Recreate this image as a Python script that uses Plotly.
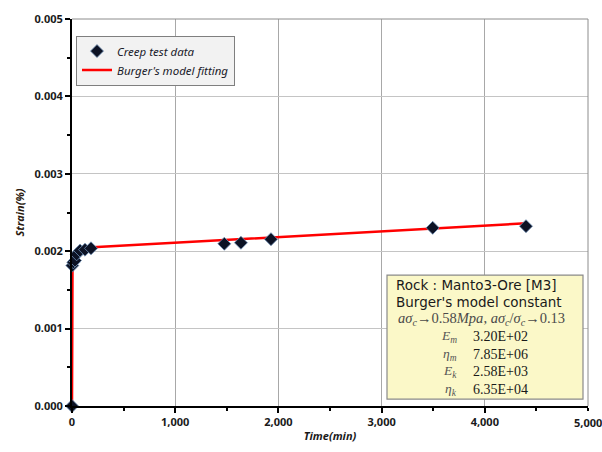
import plotly.graph_objects as go

# Creep test data
time_data = [0, 3, 13, 29, 45, 78, 126, 184, 1476, 1637, 1928, 3495, 4399]
strain_data = [0.0, 0.001814, 0.001856, 0.00188, 0.00196, 0.002008, 0.00202, 0.002037,
               0.002096, 0.002109, 0.002155, 0.002302, 0.002323]

# Burger's model fitting curve
time_fit = [0, 0, 5, 10, 25, 50, 100, 200, 1000, 2000, 3000, 4400]
strain_fit = [0.0, 0.00181, 0.00185, 0.00188, 0.00194, 0.00199, 0.00203, 0.00205,
              0.00211, 0.00218, 0.00226, 0.00236]

x_ticks = [0, 1000, 2000, 3000, 4000, 5000]
x_tick_labels = ["0", "1,000", "2,000", "3,000", "4,000", "5,000"]
y_ticks = [0, 0.001, 0.002, 0.003, 0.004, 0.005]
y_tick_labels = ["0.000", "0.001", "0.002", "0.003", "0.004", "0.005"]

info_header = ["Rock : Manto3-Ore [M3]", "Burger's model constant"]
param_names = ["<i>E<sub>m</sub></i>", "<i>η<sub>m</sub></i>", "<i>E<sub>k</sub></i>", "<i>η<sub>k</sub></i>"]
param_values = ["3.20E+02", "7.85E+06", "2.58E+03", "6.35E+04"]

W, H = 602, 452
L, R, T, B = 72, 14, 11, 45
pw, ph = W - L - R, H - T - B

def px(x):
    return (x - L) / pw

def py(y):
    return (H - B - y) / ph

fig = go.Figure()
fig.add_trace(go.Scatter(
    x=time_fit, y=strain_fit, mode="lines", name="Burger's model fitting",
    line=dict(color="#ff0000", width=2.5), cliponaxis=False))
fig.add_trace(go.Scatter(
    x=time_data, y=strain_data, mode="markers", name="Creep test data",
    marker=dict(symbol="diamond", size=10, color="#0c1224",
                line=dict(color="#6f8fb5", width=0.8)),
    cliponaxis=False))

tick_font = dict(family="Noto Sans", size=11, color="#1a1a1a", weight="bold")
fig.update_layout(
    width=W, height=H, margin=dict(l=L, r=R, t=T, b=B),
    paper_bgcolor="white", plot_bgcolor="white",
    showlegend=True,
    legend=dict(x=px(76), y=py(28), xanchor="left", yanchor="top",
                bgcolor="#f2f2f2", bordercolor="#7f7f7f", borderwidth=1,
                font=dict(family="Noto Sans", size=11.5, color="#1a1a2a", style="italic"),
                traceorder="reversed", itemwidth=30, tracegroupgap=0),
    xaxis=dict(range=[0, 5000], tickvals=x_ticks[:-1], ticktext=x_tick_labels[:-1],
               showgrid=True, gridcolor="#a8a8a8", gridwidth=1,
               showline=True, linecolor="black", linewidth=2, mirror=False,
               ticks="outside", ticklen=5, tickwidth=1.5, tickcolor="black",
               minor=dict(ticks="outside", dtick=500, ticklen=3, tickcolor="black", showgrid=False),
               tickfont=tick_font,
               title=dict(text="Time(min)", standoff=4,
                          font=dict(family="Noto Sans", size=11, color="#1a1a1a",
                                    style="italic", weight="bold")),
               zeroline=False),
    yaxis=dict(range=[0, 0.005], tickvals=y_ticks, ticktext=y_tick_labels,
               showgrid=True, gridcolor="#c4c4c4", gridwidth=1,
               showline=True, linecolor="black", linewidth=2,
               ticks="outside", ticklen=5, tickwidth=1.5, tickcolor="black",
               minor=dict(ticks="outside", dtick=0.0005, ticklen=3, tickcolor="black", showgrid=False),
               tickfont=tick_font,
               title=dict(text="Strain(%)", standoff=8,
                          font=dict(family="Noto Sans", size=11, color="#2a1a10",
                                    style="italic", weight="bold")),
               zeroline=False),
)

# last x tick label (partly cut by the page edge, as in the reference)
fig.add_annotation(xref="x", yref="paper", x=x_ticks[-1], y=0, yshift=-7,
                   xanchor="center", yanchor="top", text=x_tick_labels[-1],
                   showarrow=False, font=tick_font)
fig.add_shape(type="line", xref="x", yref="paper", x0=x_ticks[-1], x1=x_ticks[-1],
              y0=0, y1=-5 / ph, line=dict(color="black", width=1.5))

# plot area border (top/right)
fig.add_shape(type="line", xref="paper", yref="paper", x0=0, x1=1, y0=1, y1=1,
              line=dict(color="#8c8c8c", width=1))
fig.add_shape(type="line", xref="paper", yref="paper", x0=1, x1=1, y0=0, y1=1,
              line=dict(color="#8c8c8c", width=1))

# info box
fig.add_shape(type="rect", xref="paper", yref="paper",
              x0=px(387), x1=px(583), y0=py(400), y1=py(273),
              fillcolor="#fbf8c8", line=dict(color="#8a8a8a", width=1.2), layer="above")

sans = dict(family="DejaVu Sans", size=13.5, color="#1a1a1a")
for txt, yy in zip(info_header, [283, 301]):
    fig.add_annotation(xref="paper", yref="paper", x=px(394), y=py(yy),
                       xanchor="left", yanchor="middle", text=txt, showarrow=False, font=sans)

fig.add_annotation(xref="paper", yref="paper", x=px(396), y=py(318), xanchor="left", yanchor="middle",
                   text="<i>aσ<sub>c</sub></i>→0.58<i>Mpa</i>, <i>aσ<sub>c</sub></i>/<i>σ<sub>c</sub></i>→0.13",
                   showarrow=False,
                   font=dict(family="Liberation Serif", size=14.5, color="#4a4a4a"))

for name, val, yy in zip(param_names, param_values, [336, 354, 372, 390]):
    fig.add_annotation(xref="paper", yref="paper", x=px(459), y=py(yy), xanchor="right",
                       yanchor="middle", text=name, showarrow=False,
                       font=dict(family="Liberation Serif", size=13.5, color="#555555"))
    fig.add_annotation(xref="paper", yref="paper", x=px(471), y=py(yy), xanchor="left",
                       yanchor="middle", text=val, showarrow=False,
                       font=dict(family="Liberation Serif", size=14, color="#1a1a1a"))

fig.write_html("out.html")
